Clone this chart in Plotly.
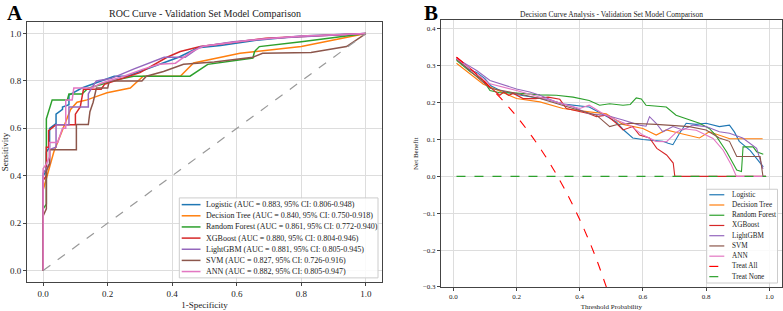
import plotly.graph_objects as go

# ---------------- ROC data ----------------
models = ["Logistic", "Decision Tree", "Random Forest", "XGBoost", "LightGBM", "SVM", "ANN"]
auc_labels = [
    "Logistic (AUC = 0.883, 95% CI: 0.806-0.948)",
    "Decision Tree (AUC = 0.840, 95% CI: 0.750-0.918)",
    "Random Forest (AUC = 0.861, 95% CI: 0.772-0.940)",
    "XGBoost (AUC = 0.880, 95% CI: 0.804-0.946)",
    "LightGBM (AUC = 0.881, 95% CI: 0.805-0.945)",
    "SVM (AUC = 0.827, 95% CI: 0.726-0.916)",
    "ANN (AUC = 0.882, 95% CI: 0.805-0.947)",
]
colors = ["#1f77b4", "#ff7f0e", "#2ca02c", "#d62728", "#9467bd", "#8c564b", "#e377c2"]

roc_fpr_logistic = [0, 0, 0.01, 0.01, 0.02, 0.02, 0.04, 0.04, 0.06, 0.06, 0.08, 0.08, 0.12, 0.16, 0.2, 0.22, 0.26, 0.3, 0.36, 0.42, 0.48, 0.55, 0.65, 0.8, 1.0]
roc_tpr_logistic = [0, 0.4, 0.42, 0.5, 0.52, 0.6, 0.62, 0.66, 0.68, 0.69, 0.7, 0.74, 0.77, 0.79, 0.81, 0.82, 0.82, 0.84, 0.87, 0.9, 0.94, 0.95, 0.97, 0.99, 1.0]

roc_fpr_dt = [0, 0, 0.033, 0.064, 0.085, 0.105, 0.136, 0.177, 0.198, 0.27, 0.3, 0.31, 0.425, 0.466, 0.61, 0.8, 1.0]
roc_tpr_dt = [0, 0.34, 0.5, 0.61, 0.68, 0.71, 0.72, 0.74, 0.75, 0.77, 0.81, 0.82, 0.82, 0.876, 0.917, 0.945, 1.0]

roc_fpr_rf = [0, 0, 0.01, 0.01, 0.028, 0.075, 0.08, 0.12, 0.14, 0.18, 0.21, 0.28, 0.455, 0.51, 0.65, 0.655, 0.67, 0.8, 1.0]
roc_tpr_rf = [0, 0.26, 0.28, 0.64, 0.72, 0.72, 0.745, 0.745, 0.77, 0.785, 0.8, 0.82, 0.82, 0.87, 0.897, 0.924, 0.945, 0.965, 1.0]

roc_fpr_xgb = [0, 0, 0.01, 0.01, 0.017, 0.017, 0.04, 0.1, 0.1, 0.115, 0.125, 0.18, 0.19, 0.22, 0.3, 0.384, 0.425, 0.487, 0.69, 1.0]
roc_tpr_xgb = [0, 0.38, 0.4, 0.52, 0.52, 0.59, 0.615, 0.615, 0.66, 0.69, 0.765, 0.765, 0.786, 0.8, 0.835, 0.9, 0.924, 0.945, 0.98, 1.0]

roc_fpr_lgbm = [0, 0, 0.01, 0.02, 0.02, 0.04, 0.04, 0.08, 0.08, 0.14, 0.14, 0.15, 0.165, 0.21, 0.28, 0.32, 0.375, 0.44, 0.487, 0.59, 0.71, 1.0]
roc_tpr_lgbm = [0, 0.41, 0.43, 0.45, 0.51, 0.52, 0.615, 0.615, 0.69, 0.69, 0.745, 0.77, 0.8, 0.81, 0.85, 0.87, 0.9, 0.9, 0.945, 0.965, 0.98, 1.0]

roc_fpr_svm = [0, 0, 0.01, 0.01, 0.02, 0.02, 0.103, 0.103, 0.14, 0.145, 0.155, 0.165, 0.2, 0.205, 0.306, 0.32, 0.373, 0.435, 0.53, 0.65, 0.68, 0.83, 0.94, 1.0]
roc_tpr_svm = [0, 0.23, 0.26, 0.42, 0.45, 0.51, 0.51, 0.616, 0.616, 0.67, 0.71, 0.77, 0.77, 0.8, 0.8, 0.82, 0.84, 0.87, 0.88, 0.9, 0.917, 0.92, 0.945, 1.0]

roc_fpr_ann = [0, 0, 0.01, 0.02, 0.02, 0.045, 0.06, 0.07, 0.07, 0.09, 0.095, 0.15, 0.18, 0.25, 0.31, 0.36, 0.41, 0.46, 0.5, 0.64, 0.8, 1.0]
roc_tpr_ann = [0, 0.43, 0.45, 0.48, 0.54, 0.54, 0.6, 0.6, 0.72, 0.72, 0.77, 0.77, 0.79, 0.82, 0.85, 0.87, 0.875, 0.924, 0.948, 0.972, 0.99, 1.0]

roc_fpr = [roc_fpr_logistic, roc_fpr_dt, roc_fpr_rf, roc_fpr_xgb, roc_fpr_lgbm, roc_fpr_svm, roc_fpr_ann]
roc_tpr = [roc_tpr_logistic, roc_tpr_dt, roc_tpr_rf, roc_tpr_xgb, roc_tpr_lgbm, roc_tpr_svm, roc_tpr_ann]

# ---------------- DCA data ----------------
dca_x_logistic = [0.01, 0.03, 0.05, 0.074, 0.1, 0.12, 0.15, 0.2, 0.25, 0.3, 0.35, 0.4, 0.43, 0.47, 0.516, 0.54, 0.568, 0.6, 0.621, 0.663, 0.68, 0.695, 0.716, 0.737, 0.768, 0.8, 0.842, 0.874, 0.89, 0.905, 0.94, 0.96, 0.981]
dca_y_logistic = [0.318, 0.305, 0.29, 0.282, 0.265, 0.245, 0.232, 0.222, 0.215, 0.208, 0.196, 0.19, 0.188, 0.17, 0.148, 0.125, 0.104, 0.1, 0.099, 0.095, 0.09, 0.086, 0.117, 0.144, 0.141, 0.144, 0.135, 0.139, 0.12, 0.095, 0.07, 0.05, 0.026]

dca_x_dt = [0.01, 0.053, 0.095, 0.126, 0.158, 0.2, 0.274, 0.347, 0.43, 0.484, 0.537, 0.6, 0.642, 0.674, 0.716, 0.779, 0.81, 0.853, 0.875, 0.979]
dca_y_dt = [0.307, 0.278, 0.25, 0.239, 0.226, 0.211, 0.202, 0.184, 0.175, 0.17, 0.141, 0.13, 0.112, 0.126, 0.117, 0.104, 0.121, 0.108, 0.102, 0.102]

dca_x_rf = [0.01, 0.053, 0.095, 0.116, 0.147, 0.2, 0.274, 0.326, 0.379, 0.43, 0.463, 0.495, 0.537, 0.56, 0.579, 0.595, 0.61, 0.674, 0.705, 0.747, 0.779, 0.81, 0.83, 0.865, 0.897, 0.912, 0.917, 0.949, 0.96, 0.981]
dca_y_rf = [0.315, 0.284, 0.26, 0.233, 0.227, 0.226, 0.221, 0.22, 0.215, 0.206, 0.193, 0.197, 0.193, 0.195, 0.213, 0.21, 0.193, 0.188, 0.166, 0.153, 0.144, 0.13, 0.112, 0.067, 0.017, 0.013, 0.08, 0.08, 0.067, 0.06]

dca_x_xgb = [0.01, 0.05, 0.1, 0.116, 0.147, 0.16, 0.175, 0.19, 0.221, 0.26, 0.3, 0.337, 0.358, 0.4, 0.43, 0.453, 0.484, 0.516, 0.537, 0.568, 0.589, 0.621, 0.644, 0.675, 0.696, 0.701, 0.99]
dca_y_xgb = [0.323, 0.295, 0.256, 0.242, 0.22, 0.229, 0.22, 0.225, 0.211, 0.211, 0.215, 0.209, 0.184, 0.175, 0.17, 0.162, 0.166, 0.144, 0.126, 0.135, 0.112, 0.104, 0.076, 0.058, 0.036, 0.0, 0.0]

dca_x_lgbm = [0.01, 0.074, 0.116, 0.168, 0.2, 0.242, 0.274, 0.326, 0.379, 0.43, 0.484, 0.537, 0.589, 0.61, 0.621, 0.642, 0.663, 0.695, 0.726, 0.758, 0.8, 0.842, 0.874, 0.916, 0.96, 0.98]
dca_y_lgbm = [0.32, 0.287, 0.26, 0.245, 0.237, 0.229, 0.22, 0.202, 0.188, 0.17, 0.166, 0.153, 0.139, 0.136, 0.162, 0.144, 0.121, 0.135, 0.126, 0.139, 0.135, 0.121, 0.117, 0.104, 0.076, 0.02]

dca_x_svm = [0.01, 0.116, 0.179, 0.274, 0.379, 0.453, 0.495, 0.516, 0.558, 0.642, 0.747, 0.8, 0.842, 0.874, 0.897, 0.971, 0.98]
dca_y_svm = [0.318, 0.239, 0.229, 0.211, 0.184, 0.166, 0.135, 0.14, 0.144, 0.141, 0.135, 0.126, 0.104, 0.095, 0.054, 0.054, 0.0]

dca_x_ann = [0.01, 0.074, 0.116, 0.2, 0.274, 0.347, 0.4, 0.43, 0.474, 0.516, 0.558, 0.6, 0.642, 0.675, 0.706, 0.727, 0.769, 0.822, 0.854, 0.88, 0.896, 0.99]
dca_y_ann = [0.32, 0.278, 0.251, 0.233, 0.215, 0.197, 0.184, 0.193, 0.17, 0.153, 0.139, 0.112, 0.095, 0.094, 0.12, 0.129, 0.125, 0.103, 0.071, 0.031, 0.0, 0.0]

dca_x = [dca_x_logistic, dca_x_dt, dca_x_rf, dca_x_xgb, dca_x_lgbm, dca_x_svm, dca_x_ann]
dca_y = [dca_y_logistic, dca_y_dt, dca_y_rf, dca_y_xgb, dca_y_lgbm, dca_y_svm, dca_y_ann]

treat_all_x = [0.01, 0.05, 0.1, 0.15, 0.2, 0.25, 0.3, 0.35, 0.4, 0.45, 0.5]
treat_all_y = [0.323, 0.295, 0.256, 0.212, 0.163, 0.107, 0.043, -0.031, -0.117, -0.218, -0.34]
treat_none_x = [0.01, 0.99]
treat_none_y = [0.0, 0.0]

roc_ticks = [0.0, 0.2, 0.4, 0.6, 0.8, 1.0]
dca_xticks = [0.0, 0.2, 0.4, 0.6, 0.8, 1.0]
dca_yticks = [-0.3, -0.2, -0.1, 0.0, 0.1, 0.2, 0.3, 0.4]

SERIF = "Liberation Serif, Times New Roman, serif"
W, H = 783, 311

def px(x):
    return x / W

def py(y):
    return 1 - y / H

fig = go.Figure()

for i in range(len(models)):
    fig.add_trace(go.Scatter(
        x=roc_fpr[i], y=roc_tpr[i], mode="lines", showlegend=False,
        line=dict(color=colors[i], width=1.5), xaxis="x", yaxis="y"))
fig.add_trace(go.Scatter(
    x=[0, 1], y=[0, 1], mode="lines", showlegend=False,
    line=dict(color="#999999", width=1.2, dash="dash"), xaxis="x", yaxis="y"))

for i in range(len(models)):
    fig.add_trace(go.Scatter(
        x=dca_x[i], y=dca_y[i], mode="lines", showlegend=False,
        line=dict(color=colors[i], width=1.1), xaxis="x2", yaxis="y2"))
fig.add_trace(go.Scatter(
    x=treat_all_x, y=treat_all_y, mode="lines", showlegend=False,
    line=dict(color="#ff0000", width=1.1, dash="dash", shape="spline"),
    xaxis="x2", yaxis="y2"))
fig.add_trace(go.Scatter(
    x=treat_none_x, y=treat_none_y, mode="lines", showlegend=False,
    line=dict(color="#2ca02c", width=1.1, dash="dash"),
    xaxis="x2", yaxis="y2"))

# ---------------- custom legends (compact, matplotlib-like) ----------------
shapes = []
annotations = []

def add_legend(box, entries, y0, dy, line_x, text_x, fsize, lw):
    bx0, by0, bx1, by1 = box
    shapes.append(dict(type="rect", xref="paper", yref="paper",
                       x0=px(bx0), x1=px(bx1), y0=py(by1), y1=py(by0),
                       fillcolor="rgba(255,255,255,0.85)", line=dict(color="#cccccc", width=1),
                       layer="above"))
    for k, (label, col, dash) in enumerate(entries):
        yy = y0 + k * dy
        shapes.append(dict(type="line", xref="paper", yref="paper",
                           x0=px(line_x[0]), x1=px(line_x[1]), y0=py(yy), y1=py(yy),
                           line=dict(color=col, width=lw, dash=dash), layer="above"))
        annotations.append(dict(text=label, x=px(text_x), y=py(yy), xref="paper", yref="paper",
                                xanchor="left", yanchor="middle", showarrow=False,
                                font=dict(size=fsize, family=SERIF, color="#222222")))

add_legend((179.3, 200.5, 378, 281.5),
           [(auc_labels[i], colors[i], "solid") for i in range(len(models))],
           207.3, 11.3, (181.7, 200.5), 204, 8, 1.5)

right_entries = [(models[i], colors[i], "solid") for i in range(len(models))]
right_entries += [("Treat All", "#ff0000", "dash"), ("Treat None", "#2ca02c", "dash")]
add_legend((706.7, 191.7, 777.5, 286.7), right_entries,
           197.3, 10.37, (709.3, 724.3), 730, 7.2, 1.2)

annotations += [
    dict(text="ROC Curve - Validation Set Model Comparison", x=px(204.5), y=py(14),
         xref="paper", yref="paper", showarrow=False, xanchor="center", yanchor="middle",
         font=dict(size=10, family=SERIF, color="#222222")),
    dict(text="Decision Curve Analysis - Validation Set Model Comparison", x=px(611.5), y=py(15),
         xref="paper", yref="paper", showarrow=False, xanchor="center", yanchor="middle",
         font=dict(size=7.5, family=SERIF, color="#222222")),
    dict(text="<b>A</b>", x=px(15), y=py(13.5), xref="paper", yref="paper", showarrow=False,
         xanchor="center", yanchor="middle", font=dict(size=21, family=SERIF, color="black")),
    dict(text="<b>B</b>", x=px(430.5), y=py(13), xref="paper", yref="paper", showarrow=False,
         xanchor="center", yanchor="middle", font=dict(size=21, family=SERIF, color="black")),
]

axis_common = dict(showline=True, linecolor="#444444", linewidth=1, mirror=True,
                   showgrid=True, gridcolor="#dddddd", gridwidth=1, zeroline=False,
                   ticks="outside", ticklen=3, tickcolor="#444444")

fig.update_layout(
    width=W, height=H,
    margin=dict(l=0, r=0, t=0, b=0),
    paper_bgcolor="white", plot_bgcolor="white",
    font=dict(family=SERIF, color="#222222"),
    showlegend=False,
    xaxis=dict(domain=[px(27), px(382)], range=[-0.05, 1.05], anchor="y",
               tickvals=roc_ticks, ticktext=[f"{v:.1f}" for v in roc_ticks],
               tickfont=dict(size=9, family=SERIF),
               title=dict(text="1-Specificity", font=dict(size=9, family=SERIF), standoff=3),
               **axis_common),
    yaxis=dict(domain=[py(286), py(22)], range=[-0.05, 1.05], anchor="x",
               tickvals=roc_ticks, ticktext=[f"{v:.1f}" for v in roc_ticks],
               tickfont=dict(size=9, family=SERIF),
               title=dict(text="Sensitivity", font=dict(size=9, family=SERIF), standoff=3),
               **axis_common),
    xaxis2=dict(domain=[px(441), px(781.6)], range=[-0.039, 1.039], anchor="y2",
                tickvals=dca_xticks, ticktext=[f"{v:.1f}" for v in dca_xticks],
                tickfont=dict(size=7, family=SERIF),
                title=dict(text="Threshold Probability", font=dict(size=7, family=SERIF), standoff=3),
                **axis_common),
    yaxis2=dict(domain=[py(290.7), py(20.7)], range=[-0.3, 0.423], anchor="x2",
                tickvals=dca_yticks, ticktext=[f"{v:.1f}".replace("-", "\u2212") for v in dca_yticks],
                tickfont=dict(size=7, family=SERIF),
                title=dict(text="Net Benefit", font=dict(size=7, family=SERIF), standoff=3),
                **axis_common),
    shapes=shapes,
    annotations=annotations,
)

fig.write_html("out.html")
